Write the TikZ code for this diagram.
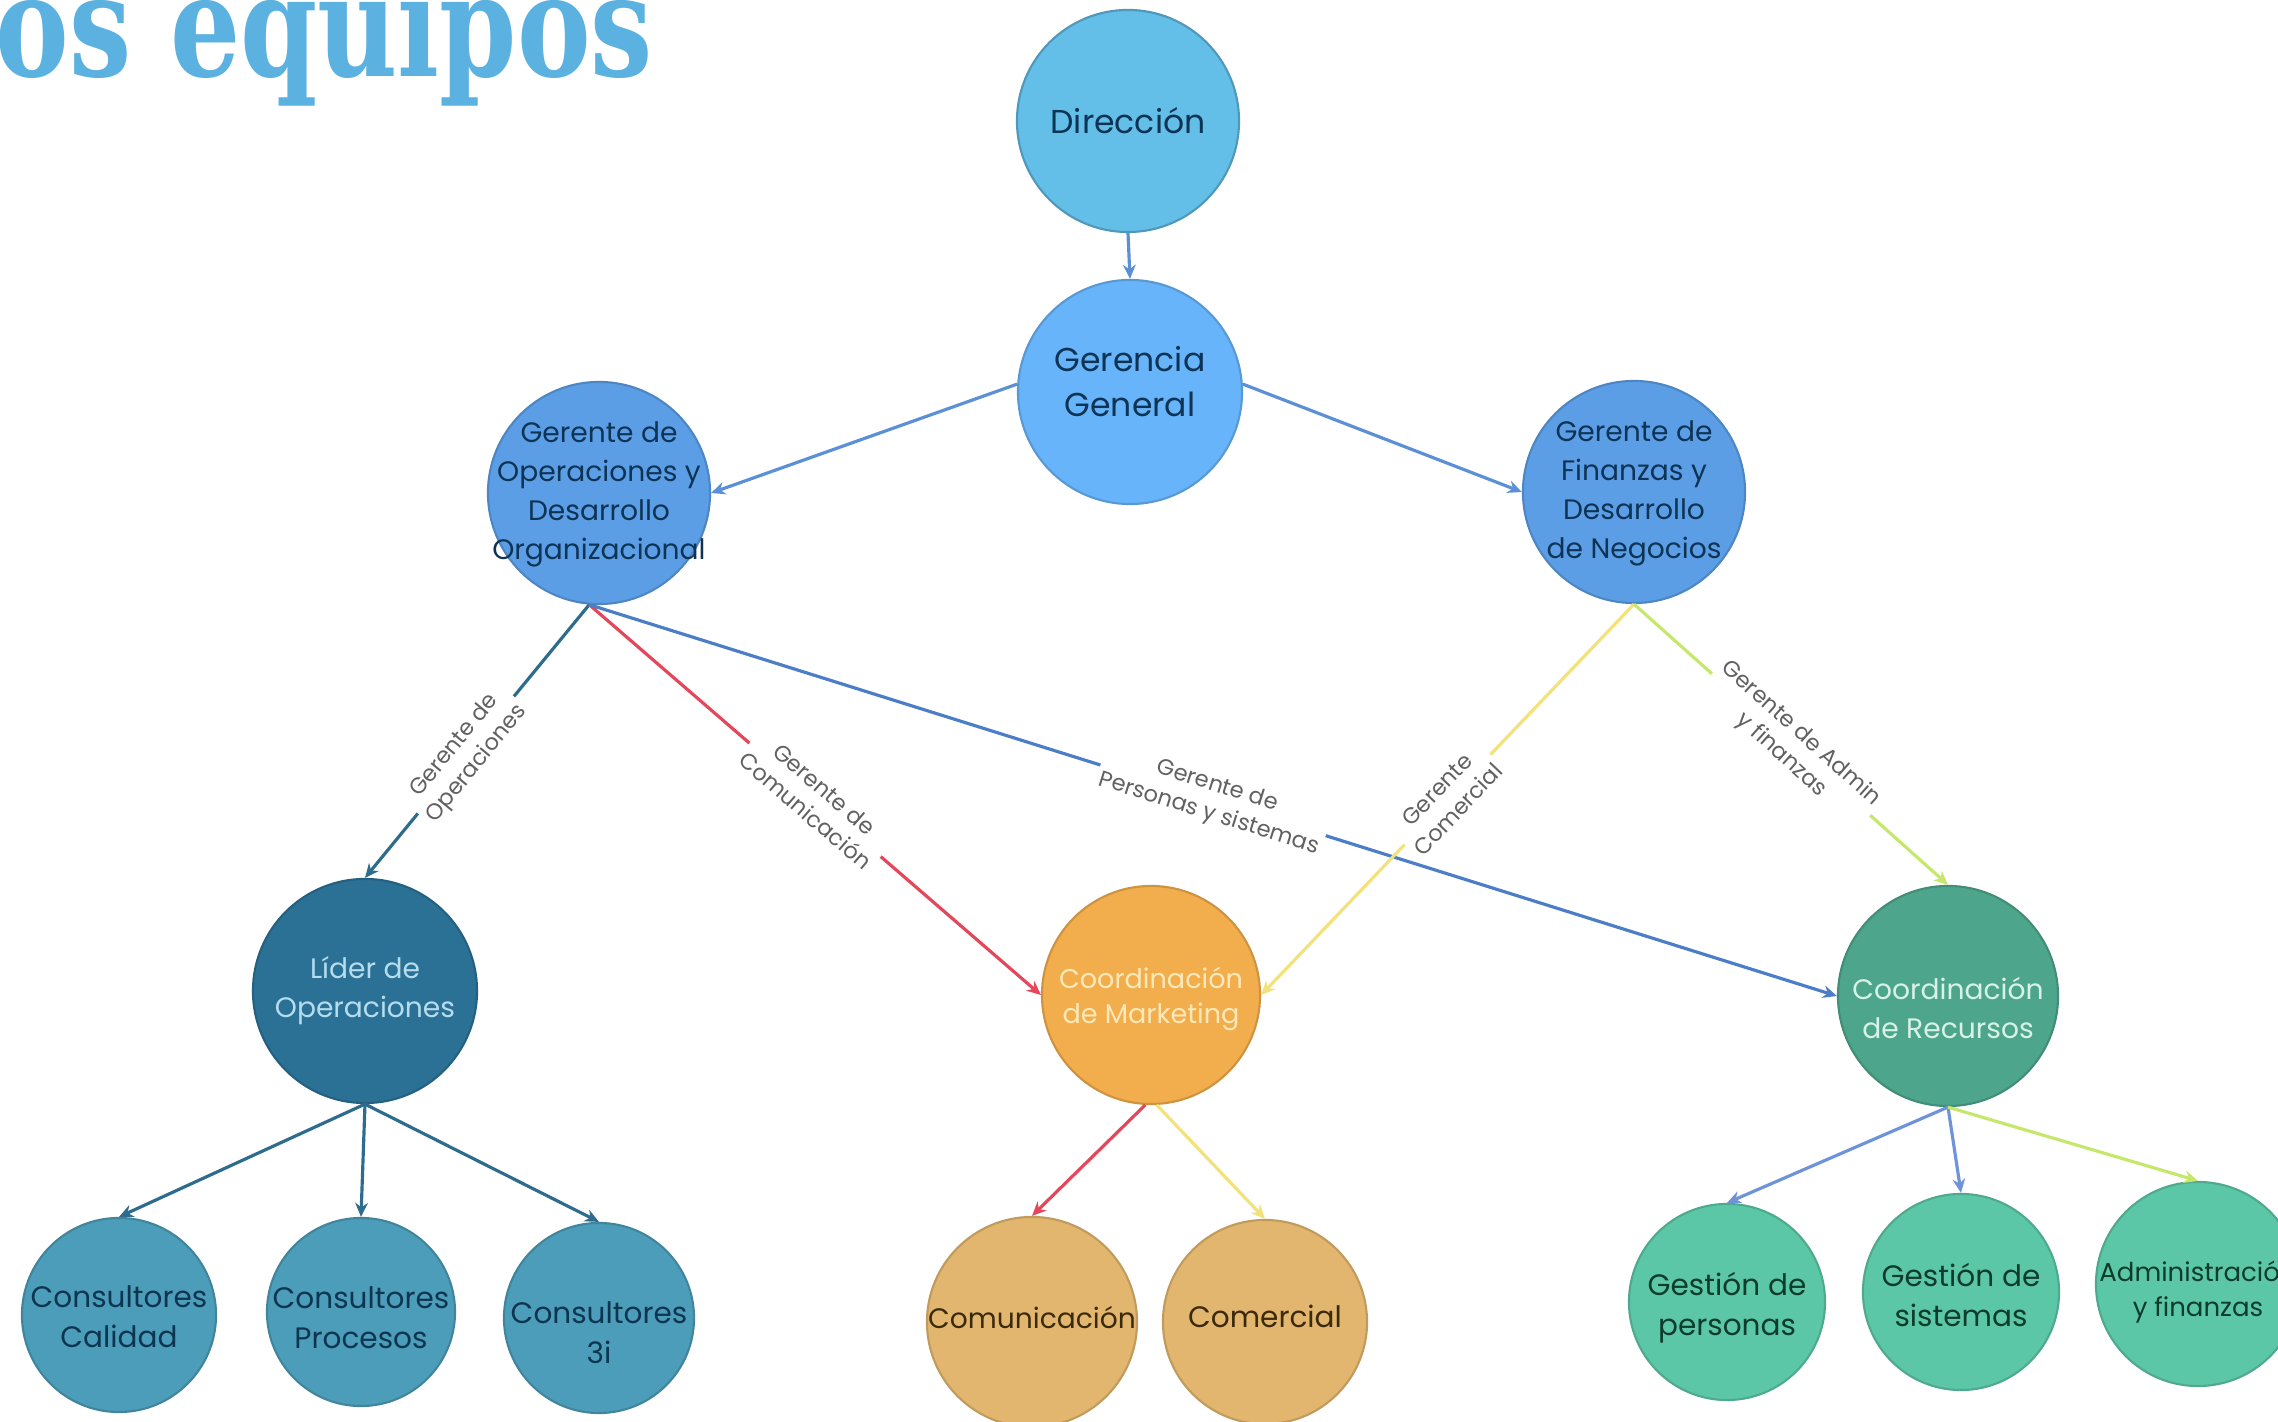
\documentclass[tikz,border=0pt]{standalone}
\usepackage{fontspec}
\usepackage{graphicx}
\setmainfont{Poppins}
\newfontfamily\slabfont{DejaVu Serif}
\usetikzlibrary{arrows.meta}
\definecolor{titleblue}{HTML}{5BB1E0}
\definecolor{cDir}{HTML}{63BEE8}
\definecolor{cGG}{HTML}{68B4FA}
\definecolor{cGer}{HTML}{5C9EE6}
\definecolor{cLid}{HTML}{2B7196}
\definecolor{cCons}{HTML}{4C9DB9}
\definecolor{cMkt}{HTML}{F2AD4D}
\definecolor{cMktCh}{HTML}{E2B66E}
\definecolor{cRec}{HTML}{4DA68C}
\definecolor{cGes}{HTML}{5CC7A7}
\definecolor{tNavy}{HTML}{0D3355}
\definecolor{tLid}{HTML}{B5DDEE}
\definecolor{tMkt}{HTML}{FCE9BA}
\definecolor{tRec}{HTML}{D8F2E8}
\definecolor{tCons}{HTML}{0E3550}
\definecolor{tBrown}{HTML}{3B2A0A}
\definecolor{tGes}{HTML}{0D3B2C}
\definecolor{eBlue}{HTML}{5B8FD6}
\definecolor{eTeal}{HTML}{2E6C8E}
\definecolor{eRed}{HTML}{E5475A}
\definecolor{eYel}{HTML}{F3E27A}
\definecolor{eLime}{HTML}{C5E86C}
\definecolor{eBlue2}{HTML}{4C7EC8}
\definecolor{eBlue3}{HTML}{6F93D8}
\begin{document}
\begin{tikzpicture}[x=0.01cm,y=-0.01cm,
  orgnode/.style={circle, inner sep=0pt, line width=0.6pt},
  txt/.style={inner sep=0pt, align=center},
  conn/.style={line width=0.9pt, -{Stealth[length=4pt,width=3.6pt]}},
  elabel/.style={fill=white, inner sep=1pt, align=center, text=black!62,
    font=\fontsize{6.4pt}{8.2pt}\selectfont},
  f94/.style={font=\fontsize{9.4pt}{12.8pt}\selectfont},
  f80/.style={font=\fontsize{8pt}{11.1pt}\selectfont},
  f84/.style={font=\fontsize{8.4pt}{11.3pt}\selectfont},
  f77/.style={font=\fontsize{7.7pt}{10pt}\selectfont},
  f74/.style={font=\fontsize{7.4pt}{10pt}\selectfont}]
\useasboundingbox (0,0) rectangle (2278,1422);
\fill[white] (0,0) rectangle (2278,1422);

% title
\node[anchor=base west, inner sep=0pt, text=titleblue,
  font=\slabfont\bfseries\fontsize{40.6pt}{48pt}\selectfont] (title) at (-5,77)
  {\scalebox{0.774}[1]{os equipos}};

% circles
\node[orgnode, fill=cDir, draw=cDir!80!black, minimum size=2.22cm] (dir) at (1128,121) {};
\node[orgnode, fill=cGG, draw=cGG!85!black, minimum size=2.24cm] (gg) at (1130,392) {};
\node[orgnode, fill=cGer, draw=cGer!85!black, minimum size=2.22cm] (go) at (599,493) {};
\node[orgnode, fill=cGer, draw=cGer!85!black, minimum size=2.22cm] (gf) at (1634,492) {};
\node[orgnode, fill=cLid, draw=cLid!85!black, minimum size=2.24cm] (lid) at (365,991) {};
\node[orgnode, fill=cMkt, draw=cMkt!85!black, minimum size=2.18cm] (mkt) at (1151,995) {};
\node[orgnode, fill=cRec, draw=cRec!85!black, minimum size=2.2cm] (rec) at (1948,996) {};
\node[orgnode, fill=cCons, draw=cCons!85!black, minimum size=1.94cm] (cc) at (119,1315) {};
\node[orgnode, fill=cCons, draw=cCons!85!black, minimum size=1.88cm] (cp) at (361,1312) {};
\node[orgnode, fill=cCons, draw=cCons!85!black, minimum size=1.9cm] (c3) at (599,1318) {};
\node[orgnode, fill=cMktCh, draw=cMktCh!85!black, minimum size=2.1cm] (com) at (1032,1322) {};
\node[orgnode, fill=cMktCh, draw=cMktCh!85!black, minimum size=2.04cm] (cml) at (1265,1322) {};
\node[orgnode, fill=cGes, draw=cGes!85!black, minimum size=1.96cm] (gp) at (1727,1302) {};
\node[orgnode, fill=cGes, draw=cGes!85!black, minimum size=1.96cm] (gs) at (1961,1292) {};
\node[orgnode, fill=cGes, draw=cGes!85!black, minimum size=2.04cm] (adm) at (2198,1284) {};

% circle texts
\node[txt, f94, text=tNavy] (dirT) at (dir) {Dirección};
\node[txt, f94, text=tNavy] (ggT) at ([yshift=0.1cm]gg.center) {Gerencia\\General};
\node[txt, f80, text=tNavy] (goT) at ([yshift=-0.01cm]go.center) {Gerente de\\Operaciones y\\Desarrollo\\Organizacional};
\node[txt, f80, text=tNavy] (gfT) at ([yshift=-0.01cm]gf.center) {Gerente de\\Finanzas y\\Desarrollo\\de Negocios};
\node[txt, f80, text=tLid] (lidT) at (lid) {Líder de\\Operaciones};
\node[txt, f77, text=tMkt] (mktT) at ([yshift=-0.04cm]mkt.center) {Coordinación\\de Marketing};
\node[txt, f80, text=tRec] (recT) at ([yshift=-0.12cm]rec.center) {Coordinación\\de Recursos};
\node[txt, f84, text=tCons] (ccT) at ([yshift=-0.02cm]cc.center) {Consultores\\Calidad};
\node[txt, f84, text=tCons] (cpT) at ([yshift=-0.06cm]cp.center) {Consultores\\Procesos};
\node[txt, f84, text=tCons] (c3T) at ([yshift=-0.15cm]c3.center) {Consultores\\3i};
\node[txt, f80, text=tBrown] (comT) at ([yshift=0.04cm]com.center) {Comunicación};
\node[txt, f84, text=tBrown] (cmlT) at ([yshift=0.06cm]cml.center) {Comercial};
\node[txt, f84, text=tGes] (gpT) at ([yshift=-0.06cm]gp.center) {Gestión de\\personas};
\node[txt, f84, text=tGes] (gsT) at ([yshift=-0.03cm]gs.center) {Gestión de\\sistemas};
\node[txt, f74, text=tGes] (admT) at ([yshift=-0.08cm]adm.center) {Administración\\y finanzas};

% connectors
\draw[conn, eBlue] (dir.south) -- (gg.north);
\draw[conn, eBlue] (gg.176) -- (go.east);
\draw[conn, eBlue] (gg.4) -- (gf.west);

\draw[conn, eTeal] (go.-95) -- node[elabel, sloped, pos=0.55] {Gerente de\\Operaciones} (lid.north);
\draw[conn, eRed] (go.-95) -- node[elabel, sloped, pos=0.5] {Gerente de\\Comunicación} (mkt.west);
\draw[conn, eBlue2] (go.-95) -- node[elabel, sloped, pos=0.5] {Gerente de\\Personas y sistemas} (rec.west);
\draw[conn, eYel] (gf.south) -- node[elabel, sloped, pos=0.5] {Gerente\\Comercial} (mkt.east);
\draw[conn, eLime] (gf.south) -- node[elabel, sloped, pos=0.5] {Gerente de Admin\\y finanzas} (rec.north);

\draw[conn, eTeal] (lid.south) -- (cc.north);
\draw[conn, eTeal] (lid.south) -- (cp.north);
\draw[conn, eTeal] (lid.south) -- (c3.north);

\draw[conn, eRed] (mkt.-93) -- (com.north);
\draw[conn, eYel] (mkt.-87) -- (cml.north);

\draw[conn, eBlue3] (rec.south) -- (gp.north);
\draw[conn, eBlue3] (rec.south) -- (gs.north);
\draw[conn, eLime] (rec.south) -- (adm.north);
\end{tikzpicture}
\end{document}
